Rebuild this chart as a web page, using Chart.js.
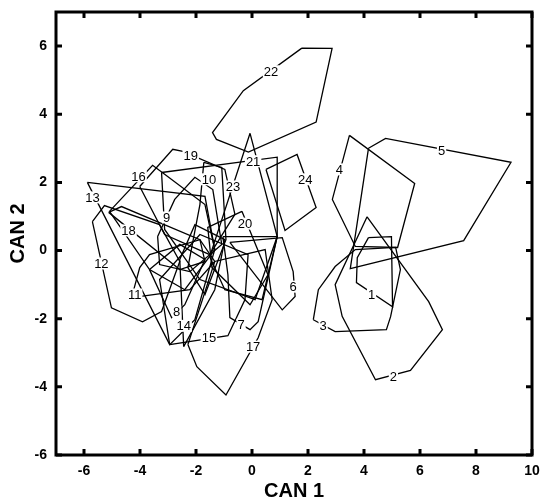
<!DOCTYPE html>
<html>
<head>
<meta charset="utf-8">
<script src="https://cdn.jsdelivr.net/npm/chart.js@4/dist/chart.umd.min.js"></script>
<style>
  html, body { margin: 0; padding: 0; background: #fff; }
</style>
</head>
<body>
<canvas id="canChart" width="540" height="503"></canvas>
<script>
// group numbers, hull vertices (CAN 1, CAN 2) and label spots
const groupNames = ['1','2','3','4','5','6','7','8','9','10','11','12','13','14','15','16','17','18','19','20','21','22','23','24'];

const hullPoints = [
  [[4.16,0.38],[4.98,0.41],[5.02,-1.65],[3.73,-0.94],[3.76,-0.21]],
  [[4.11,0.99],[6.31,-1.5],[6.8,-2.32],[5.66,-3.52],[4.41,-3.79],[3.22,-1.93],[2.97,-1.0]],
  [[2.19,-2.03],[2.37,-1.15],[2.97,-0.47],[3.69,0.03],[5.13,0.09],[5.3,-0.56],[4.95,-1.94],[4.8,-2.32],[2.97,-2.38]],
  [[3.48,3.38],[5.81,1.97],[5.2,0.09],[3.69,0.12],[2.87,1.5]],
  [[4.16,3.0],[4.77,3.29],[9.25,2.59],[7.56,0.29],[3.51,-0.53]],
  [[-0.79,0.24],[1.08,0.38],[1.47,-0.62],[1.54,-1.35],[1.08,-1.74]],
  [[-1.04,0.41],[0.9,0.41],[0.22,-2.09],[-0.07,-2.32],[-0.79,-1.97],[-0.86,-0.71]],
  [[-3.66,-0.56],[-2.87,-1.97],[-2.4,-1.59],[-1.68,-0.26],[-2.58,0.18]],
  [[-3.37,0.41],[-2.76,1.5],[-2.04,2.15],[-1.4,1.79],[-1.08,0.18],[-2.22,-0.62],[-3.3,-0.41]],
  [[-1.72,2.59],[-1.08,2.44],[-0.93,0.32],[-1.68,-1.29],[-2.29,-0.5],[-1.86,1.35]],
  [[-4.3,-1.38],[-2.22,-1.15],[-1.33,-0.32],[-1.86,0.32],[-3.66,-0.12],[-4.01,-0.5]],
  [[-5.7,0.85],[-5.27,1.32],[-3.3,0.76],[-2.58,-0.32],[-3.23,-1.79],[-3.91,-2.09],[-5.02,-1.68]],
  [[-5.88,2.0],[-1.68,1.59],[-1.33,0.03],[-2.04,-2.03],[-2.94,-2.76]],
  [[-2.44,-2.82],[-1.33,-1.15],[-0.97,0.32],[-2.04,0.76],[-2.58,-0.26]],
  [[-2.94,-2.76],[-0.86,-2.5],[-0.25,-1.44],[-0.14,-0.12],[-1.86,0.47],[-3.3,-0.85]],
  [[-5.09,1.15],[-3.55,2.5],[-3.12,2.24],[-1.68,1.35],[-1.33,0.03],[-2.4,-1.15],[-3.66,-0.56]],
  [[-2.29,-2.76],[-1.97,-3.41],[-0.93,-4.24],[0.22,-2.56],[0.72,-1.44],[0.47,0.03],[-1.33,-0.32]],
  [[-5.12,1.12],[-4.66,1.29],[-1.86,0.32],[-1.68,-0.32],[-2.58,-0.56]],
  [[-4.01,1.88],[-2.83,2.97],[-2.47,2.91],[-0.97,2.38],[-0.61,1.06],[-1.51,-0.12],[-3.12,0.47]],
  [[-0.36,1.15],[0.57,-0.71],[-0.07,-1.59],[-1.43,-0.5],[-1.58,0.68]],
  [[-3.23,2.29],[0.9,2.74],[0.9,0.41],[0.11,-1.44],[-1.86,-0.85],[-3.12,0.62]],
  [[1.78,5.94],[2.86,5.93],[2.29,3.77],[-0.13,2.89],[-1.27,3.26],[-1.41,3.46],[-0.31,4.69]],
  [[-0.07,3.44],[0.9,0.41],[0.36,-1.44],[-0.97,-1.15],[-1.51,-0.18]],
  [[0.5,2.38],[1.61,2.82],[2.29,1.26],[1.18,0.59]]
];

const labelX = [4.27,5.05,2.54,3.12,6.77,1.47,-0.39,-2.69,-3.05,-1.54,-4.19,-5.38,-5.7,-2.44,-1.54,-4.05,0.04,-4.41,-2.19,-0.25,0.04,0.68,-0.68,1.9];
const labelY = [-1.29,-3.68,-2.21,2.38,2.94,-1.06,-2.18,-1.79,0.97,2.09,-1.29,-0.38,1.56,-2.21,-2.56,2.18,-2.82,0.59,2.79,0.79,2.62,5.26,1.88,2.09];

const xTicks = [-6, -4, -2, 0, 2, 4, 6, 8, 10];
const yTicks = [-6, -4, -2, 0, 2, 4, 6];

Chart.defaults.font.family = '"Liberation Sans", Arial, Helvetica, sans-serif';
Chart.defaults.color = '#000';

const datasets = [];
for (let i = 0; i < hullPoints.length; i++) {
  const pts = hullPoints[i].map(p => ({x: p[0], y: p[1]}));
  pts.push(pts[0]);
  datasets.push({
    label: groupNames[i],
    data: pts,
    showLine: true,
    fill: false,
    borderColor: '#000',
    borderWidth: 1.3,
    pointRadius: 0,
    tension: 0
  });
}

// labels on the hulls, heavy frame and inward ticks
const framePlugin = {
  id: 'frame',
  afterDatasetsDraw(chart) {
    const ctx = chart.ctx;
    const a = chart.chartArea;
    const xs = chart.scales.x, ys = chart.scales.y;
    ctx.save();
    ctx.font = '13px "Liberation Sans", Arial, sans-serif';
    ctx.textAlign = 'center';
    ctx.textBaseline = 'middle';
    for (let i = 0; i < groupNames.length; i++) {
      const px = xs.getPixelForValue(labelX[i]);
      const py = ys.getPixelForValue(labelY[i]);
      const w = ctx.measureText(groupNames[i]).width;
      ctx.fillStyle = '#fff';
      ctx.fillRect(px - w / 2 - 1, py - 6, w + 2, 12);
      ctx.fillStyle = '#000';
      ctx.fillText(groupNames[i], px, py + 1);
    }
    ctx.strokeStyle = '#000';
    ctx.lineWidth = 3;
    ctx.strokeRect(a.left, a.top, a.right - a.left, a.bottom - a.top);
    ctx.beginPath();
    xTicks.forEach(v => {
      const px = xs.getPixelForValue(v);
      ctx.moveTo(px, a.bottom); ctx.lineTo(px, a.bottom - 6);
      ctx.moveTo(px, a.top); ctx.lineTo(px, a.top + 6);
    });
    yTicks.forEach(v => {
      const py = ys.getPixelForValue(v);
      ctx.moveTo(a.left, py); ctx.lineTo(a.left + 6, py);
      ctx.moveTo(a.right, py); ctx.lineTo(a.right - 6, py);
    });
    ctx.stroke();
    ctx.restore();
  }
};

const canChart = new Chart(document.getElementById('canChart').getContext('2d'), {
  type: 'scatter',
  data: {datasets: datasets},
  options: {
    responsive: false,
    animation: false,
    devicePixelRatio: 1,
    layout: {padding: {top: 12, right: 8, left: 0, bottom: 0}},
    plugins: {legend: {display: false}, tooltip: {enabled: false}},
    scales: {
      x: {
        type: 'linear',
        min: -7,
        max: 10,
        afterBuildTicks: s => { s.ticks = xTicks.map(v => ({value: v})); },
        afterFit: s => { s.height = 48; s.paddingLeft = 0; s.paddingRight = 0; },
        grid: {display: false, drawTicks: false},
        border: {display: false},
        ticks: {font: {size: 14, weight: 'bold'}, color: '#000', padding: 8},
        title: {display: true, text: 'CAN 1', color: '#000', font: {size: 20, weight: 'bold'}, padding: {top: 0, bottom: 0}}
      },
      y: {
        type: 'linear',
        min: -6,
        max: 7,
        afterBuildTicks: s => { s.ticks = yTicks.map(v => ({value: v})); },
        afterFit: s => { s.width = 56; s.paddingTop = 0; s.paddingBottom = 0; },
        grid: {display: false, drawTicks: false},
        border: {display: false},
        ticks: {font: {size: 14, weight: 'bold'}, color: '#000', padding: 9},
        title: {display: true, text: 'CAN 2', color: '#000', font: {size: 20, weight: 'bold'}, padding: {top: 6, bottom: 0}}
      }
    }
  },
  plugins: [framePlugin]
});
</script>
</body>
</html>
